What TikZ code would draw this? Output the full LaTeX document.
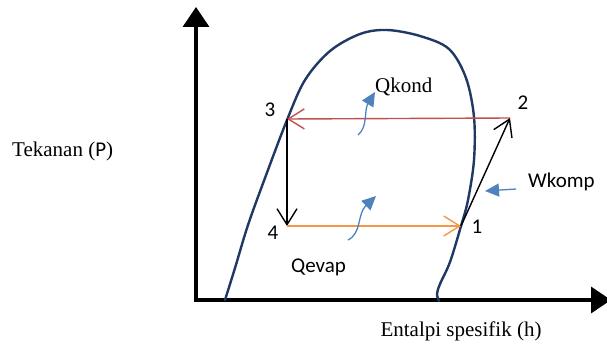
\documentclass[tikz,border=0pt]{standalone}
\usepackage{fontspec}
\setmainfont{Liberation Serif}
\setsansfont{Carlito}
\usetikzlibrary{arrows.meta}
\definecolor{dome}{RGB}{31,56,100}
\definecolor{redl}{RGB}{192,80,77}
\definecolor{orangel}{RGB}{247,150,70}
\definecolor{bluea}{RGB}{79,129,189}
\tikzset{
  axis/.style={line width=3.5pt,-{Triangle[length=20pt,width=26pt]}},
  cyc/.style={line width=1.4pt,-{Straight Barb[length=16pt,width=20pt,line width=1.4pt]}},
  heat/.style={bluea,line width=1.3pt,-{Triangle[length=14pt,width=13pt]}},
  lbl/.style={font=\fontsize{21}{25}\selectfont, inner sep=0pt},
  num/.style={font=\sffamily\fontsize{21}{25}\selectfont, inner sep=0pt}
}
\begin{document}
\begin{tikzpicture}[x=1pt,y=-1pt]
\useasboundingbox (0,0) rectangle (607,345);
\begin{scope}
\clip (0,0) rectangle (607,345);
% axes
\coordinate (O) at (196,300);
\coordinate (ytip) at (196,7);
\coordinate (xtip) at (611,300);
\draw[axis] ([yshift=-1.75pt]O) -- (ytip);
\draw[axis] ([xshift=-1.75pt]O) -- (xtip);
\end{scope}
% dome
\draw[dome,line width=2.4pt,line cap=round] plot[smooth,tension=0.55] coordinates {
 (225,300) (235,268) (248,225) (265,178) (287,120) (305,80) (330,51) (360,34) (387,30)
 (420,36) (449,49) (466,78) (474,117) (474,160) (468,200) (461,226) (450,262) (440,284) (437,294) (439,301)};
% state points
\coordinate (p1) at (461,226);
\coordinate (p2) at (510,118);
\coordinate (p3) at (287,119);
\coordinate (p4) at (287,226);
\draw[cyc,redl] (p2) -- (p3);
\draw[cyc,black] (p3) -- (p4);
\draw[cyc,orangel] (p4) -- (p1);
\draw[cyc,black] (p1) -- (p2);
% numbers
\node[num] (n1) at (477,227) {1};
\node[num] (n2) at (523,103) {2};
\node[num] (n3) at (270,110) {3};
\node[num] (n4) at (273,233) {4};
% heat/work arrows
\coordinate (qk0) at (358,135);
\coordinate (qk1) at (375,92);
\draw[heat] (qk0) .. controls (368,127) and (364,110) .. (qk1);
\coordinate (qe0) at (348,240);
\coordinate (qe1) at (376,196);
\draw[heat] (qe0) .. controls (362,233) and (357,214) .. (qe1);
\coordinate (wk0) at (516,189);
\coordinate (wk1) at (485,191);
\draw[heat] (wk0) -- (wk1);
% labels
\node[lbl,anchor=west] (qkond) at (375,87) {Qkond};
\node[num,anchor=west] (qevap) at (291,267) {Qevap};
\node[num,anchor=west] (wkomp) at (528,182) {Wkomp};
\node[lbl,anchor=west] (tek) at (12,151) {Tekanan (\textsf{P})};
\node[lbl] (ent) at (461,331) {Entalpi spesifik (h)};
\end{tikzpicture}
\end{document}
